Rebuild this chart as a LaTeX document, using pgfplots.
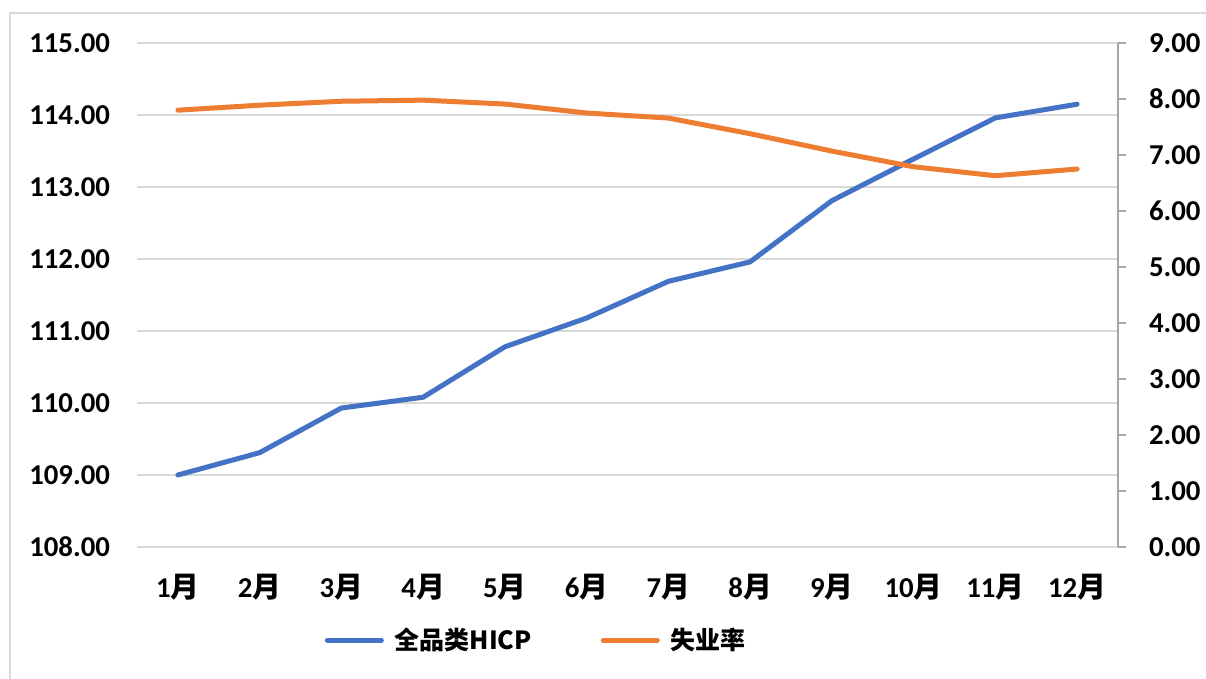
\documentclass[border=0pt]{standalone}
\usepackage{fontspec}
\setmainfont{Carlito}
\newfontfamily\cjk{Noto Sans CJK SC}
\usepackage{pgfplots}
\pgfplotsset{compat=1.18}

\definecolor{hicp}{HTML}{4472C4}
\definecolor{unemp}{HTML}{ED7D31}
\definecolor{gridgray}{HTML}{D9D9D9}
\definecolor{axgray}{HTML}{A6A6A6}

\newcommand{\m}[1]{#1{\cjk\bfseries 月}}

\begin{document}
\begin{tikzpicture}
\path[use as bounding box] (-68.5bp,-66bp) rectangle (534.5bp,273.5bp);
\fill[white] (-68.5bp,-66bp) rectangle (534.5bp,273.5bp);
\draw[gridgray, line width=1bp] (-63.5bp,-75bp) rectangle (540bp,267bp);

\pgfplotsset{
  every axis/.append style={
    scale only axis, width=490.5bp, height=252bp,
    xmin=0.5, xmax=12.5,
    tick label style={font=\fontsize{14.4bp}{16bp}\selectfont\bfseries},
    /pgf/number format/.cd, fixed, fixed zerofill, precision=2, assume math mode=true,
  }
}

\begin{axis}[
  ymin=108, ymax=115, ytick={108,...,115},
  xtick={1,...,12},
  xticklabels={\m{1},\m{2},\m{3},\m{4},\m{5},\m{6},\m{7},\m{8},\m{9},\m{10},\m{11},\m{12}},
  xticklabel style={yshift=-10bp},
  yticklabel style={xshift=-10bp},
  axis line style={draw=none},
  major tick length=0pt,
  ymajorgrids, grid style={gridgray, line width=1bp},
  legend style={draw=none, at={(0.185,-0.185)}, anchor=west,
    font=\fontsize{12.5bp}{15bp}\selectfont\cjk\bfseries, legend columns=2,
    /tikz/every even column/.append style={column sep=32.5bp}},
  legend image code/.code={\draw[#1, line width=2.5bp, line cap=round] (0bp,0bp) -- (27bp,0bp); \path (30.5bp,0bp);},
]
\addplot[hicp, line width=2.5bp, line cap=round, line join=round] coordinates {
  (1,109.00) (2,109.31) (3,109.93) (4,110.08) (5,110.78) (6,111.18)
  (7,111.69) (8,111.96) (9,112.81) (10,113.39) (11,113.96) (12,114.15)
};
\addlegendentry{全品类HICP}
\addlegendimage{unemp, line width=2.5bp}
\addlegendentry{失业率}
\end{axis}

\begin{axis}[
  ymin=0, ymax=9, ytick={0,...,9},
  axis x line=none, axis y line*=right,
  y axis line style={axgray, line width=1bp},
  ytick style={axgray, line width=1bp},
  tick align=outside, major tick length=4bp,
  yticklabel style={xshift=8bp},
]
\addplot[unemp, line width=2.5bp, line cap=round, line join=round] coordinates {
  (1,7.80) (2,7.89) (3,7.96) (4,7.98) (5,7.91) (6,7.75)
  (7,7.66) (8,7.38) (9,7.07) (10,6.79) (11,6.63) (12,6.75)
};
\end{axis}
\end{tikzpicture}
\end{document}
